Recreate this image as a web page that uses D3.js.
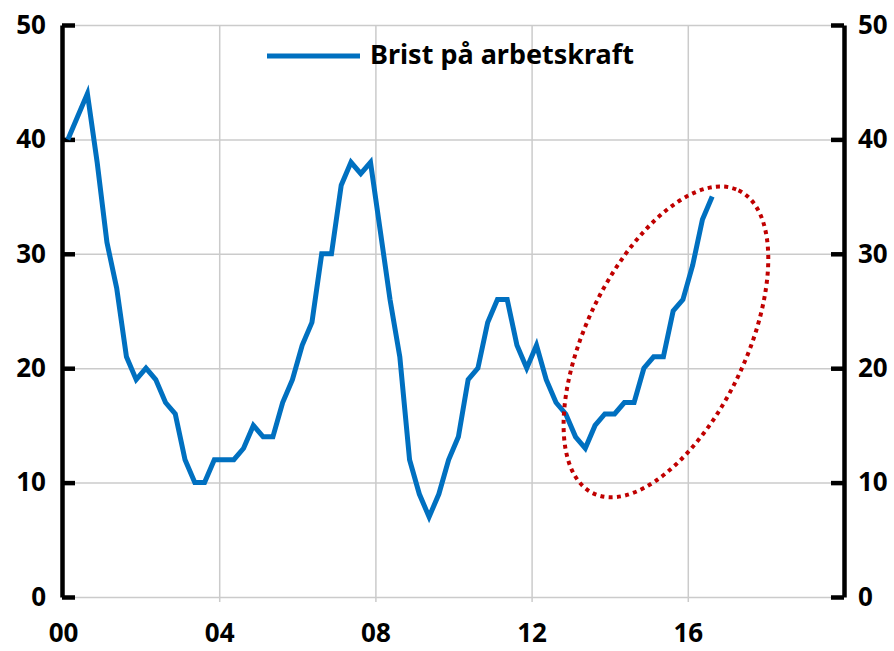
<!DOCTYPE html>
<html>
<head>
<meta charset="utf-8">
<script src="https://cdn.jsdelivr.net/npm/d3@7"></script>
<style>
  body { margin: 0; background: #fff; }
  svg text { font-family: 'Noto Sans', sans-serif; font-weight: bold; fill: #000; }
</style>
</head>
<body>
<svg id="chart" width="894" height="651"></svg>
<script>
// Brist på arbetskraft, kvartal 2000K1 - 2016K3 (procent)
const seriesName = 'Brist på arbetskraft';
const startYear = 2000;
const values = [
  40, 42, 44, 38, 31, 27, 21, 19, 20, 19, 17, 16, 12, 10, 10, 12,
  12, 12, 13, 15, 14, 14, 17, 19, 22, 24, 30, 30, 36, 38, 37, 38,
  32, 26, 21, 12, 9, 7, 9, 12, 14, 19, 20, 24, 26, 26, 22, 20,
  22, 19, 17, 16, 14, 13, 15, 16, 16, 17, 17, 20, 21, 21, 25, 26,
  29, 33, 35
];
const xTickYears = [2000, 2004, 2008, 2012, 2016];
const xTickLabels = ['00', '04', '08', '12', '16'];
const yTicks = [0, 10, 20, 30, 40, 50];

// annotation ring around the latest upturn (centre in data units)
const ringCenter = [2015.44, 22.3];

const w = 894;
const h = 651;
const margin = { top: 25, right: 50, bottom: 54, left: 63 };

// each quarter is placed at the middle of the quarter
const data = values.map((v, i) => ({ t: startYear + i / 4 + 0.125, v: v }));

const xScale = d3.scaleLinear()
  .domain([2000, 2020])
  .range([margin.left, w - margin.right]);
const yScale = d3.scaleLinear()
  .domain([0, 50])
  .range([h - margin.bottom, margin.top]);

const svg = d3.select('#chart');
const x0 = xScale.range()[0];
const x1 = xScale.range()[1];
const yBottom = yScale(0);
const yTop = yScale(50);

// horizontal grid
svg.append('g')
  .attr('transform', `translate(${x0}, 0)`)
  .call(d3.axisLeft(yScale).tickValues(yTicks).tickSize(-(x1 - x0)).tickFormat(''))
  .call(g => g.select('.domain').remove())
  .call(g => g.selectAll('line').attr('stroke', '#cbcbcb').attr('stroke-width', 1.5));

// vertical grid (runs a little below the 0 line)
svg.append('g')
  .attr('transform', `translate(0, ${yBottom + 5})`)
  .call(d3.axisBottom(xScale).tickValues(xTickYears.slice(1)).tickSize(-(yBottom + 5 - yTop)).tickFormat(''))
  .call(g => g.select('.domain').remove())
  .call(g => g.selectAll('line').attr('stroke', '#cbcbcb').attr('stroke-width', 1.5));

// x labels
svg.append('g')
  .attr('transform', `translate(0, ${yBottom})`)
  .call(d3.axisBottom(xScale).tickValues(xTickYears).tickSize(0).tickPadding(27)
    .tickFormat((d, i) => xTickLabels[i]))
  .call(g => g.select('.domain').remove())
  .call(g => g.selectAll('text').style('font-size', '26px').attr('fill', '#000'));

// left and right axes, ticks pointing inwards
function styleAxis(g) {
  g.select('.domain').attr('stroke', '#000').attr('stroke-width', 4.5);
  g.selectAll('.tick line').attr('stroke', '#000').attr('stroke-width', 4.5);
  g.selectAll('text').style('font-size', '26px').attr('fill', '#000');
}

svg.append('g')
  .attr('transform', `translate(${x0 - 1}, 0)`)
  .call(d3.axisLeft(yScale).tickValues(yTicks).tickSizeInner(-13).tickSizeOuter(0).tickPadding(16))
  .call(styleAxis);

svg.append('g')
  .attr('transform', `translate(${x1}, 0)`)
  .call(d3.axisRight(yScale).tickValues(yTicks).tickSizeInner(-13).tickSizeOuter(0).tickPadding(14))
  .call(styleAxis);

// series
const line = d3.line()
  .x(d => xScale(d.t))
  .y(d => yScale(d.v));

svg.append('path')
  .datum(data)
  .attr('d', line)
  .attr('fill', 'none')
  .attr('stroke', '#0070c0')
  .attr('stroke-width', 5)
  .attr('stroke-linejoin', 'miter');

// dotted ring
svg.append('ellipse')
  .attr('transform', `translate(${xScale(ringCenter[0])}, ${yScale(ringCenter[1])}) rotate(-64.4)`)
  .attr('rx', 168)
  .attr('ry', 80)
  .attr('fill', 'none')
  .attr('stroke', '#c00000')
  .attr('stroke-width', 4)
  .attr('stroke-dasharray', '4 4.3');

// legend
const legend = svg.append('g').attr('transform', 'translate(267, 56)');
legend.append('line')
  .attr('x1', 0).attr('x2', 93)
  .attr('stroke', '#0070c0')
  .attr('stroke-width', 5);
legend.append('text')
  .attr('x', 103)
  .attr('y', 8)
  .style('font-size', '27px')
  .text(seriesName);
</script>
</body>
</html>
